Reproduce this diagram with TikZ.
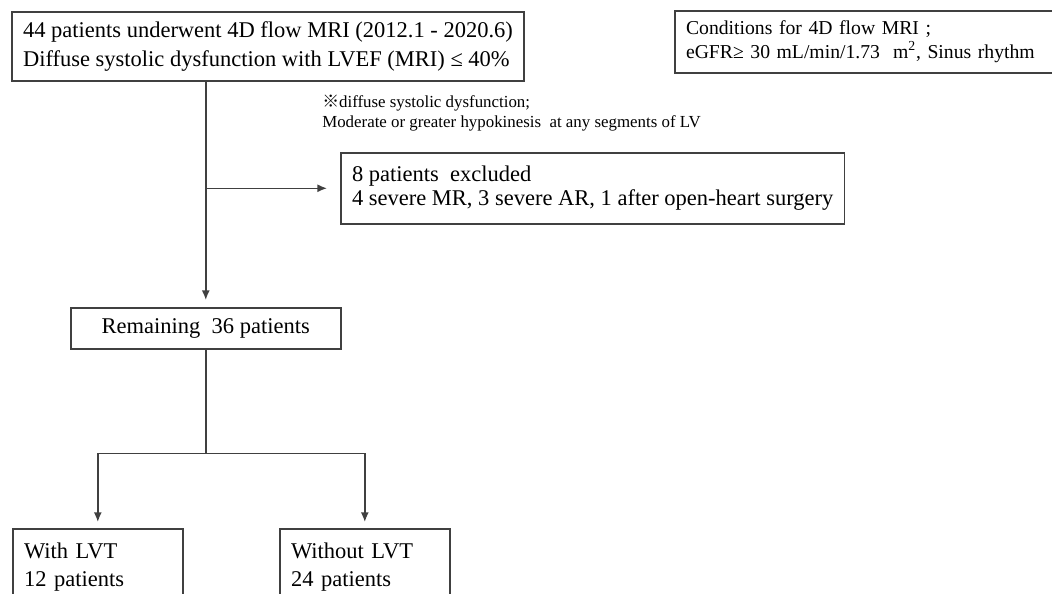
\documentclass[tikz,border=0pt]{standalone}
\usepackage{fontspec}
\setmainfont{Liberation Serif}
\newfontfamily\cjk{Noto Sans CJK JP}
\usepackage{tikz}
\usetikzlibrary{arrows, arrows.meta, positioning, calc}
\tikzset
{
  flowbox/.style={draw=black!75,line width=1.1pt,inner xsep=8pt,inner ysep=5pt,align=left,font=\fontsize{16}{21}\selectfont},
  flowline/.style={draw=black!75,line width=1.1pt},
  flowarrow/.style={draw=black!75,line width=1.1pt,-{Latex[length=0.24cm,width=0.2cm]}}
}

\begin{document}
\begin{tikzpicture}[x=0.025cm,y=-0.025cm]
        % Page frame
        \useasboundingbox (0,0) rectangle (1052,593);
        \clip (0,0) rectangle (1052,593);

        % Boxes
        \node[flowbox,anchor=north west,minimum height=69*0.025cm] (start) at (11,11)
            {44 patients underwent 4D flow MRI (2012.1 - 2020.6)\\Diffuse systolic dysfunction with LVEF (MRI) ≤ 40\%};
        \node[flowbox,anchor=north west,minimum height=62*0.025cm,text width=9.19cm,font=\fontsize{14}{16.5}\selectfont] (cond) at (674,10)
            {Conditions for 4D flow MRI ;\\eGFR≥ 30 mL/min/1.73~~m\textsuperscript{2}, Sinus rhythm};
        \node[anchor=north west,align=left,inner sep=0pt,font=\fontsize{12}{14.2}\selectfont] (note) at (322,95)
            {{\cjk ※}diffuse systolic dysfunction;\\Moderate or greater hypokinesis~ at any segments of LV};
        \node[flowbox,anchor=north west,minimum height=71*0.025cm,font=\fontsize{16}{17}\selectfont] (excl) at (340,152)
            {8 patients~ excluded\\4 severe MR, 3 severe AR, 1 after open-heart surgery};
        \node[flowbox,anchor=north west,minimum width=270*0.025cm,minimum height=41*0.025cm,align=center] (rem) at (70,307)
            {Remaining~ 36 patients};
        \node[flowbox,anchor=north west,text width=3.688cm,minimum height=76*0.025cm,font=\fontsize{16}{20}\selectfont] (with) at (12,528)
            {With LVT\\12 patients};
        \node[flowbox,anchor=north west,text width=3.688cm,minimum height=76*0.025cm,font=\fontsize{16}{20}\selectfont] (without) at (279,528)
            {Without LVT\\24 patients};

        % Connectors
        \draw[flowarrow,shorten >=7*0.025cm] (rem.north |- start.south) -- (rem.north);
        \draw[flowarrow,shorten >=13*0.025cm] (rem.north |- excl.west) -- (excl.west);
        \draw[flowline] (rem.south) -- ++(0,104) coordinate (split);
        \draw[flowarrow,shorten >=6*0.025cm] (split) -| (with.north);
        \draw[flowarrow,shorten >=6*0.025cm] (split) -| (without.north);
    \end{tikzpicture}
\end{document}
